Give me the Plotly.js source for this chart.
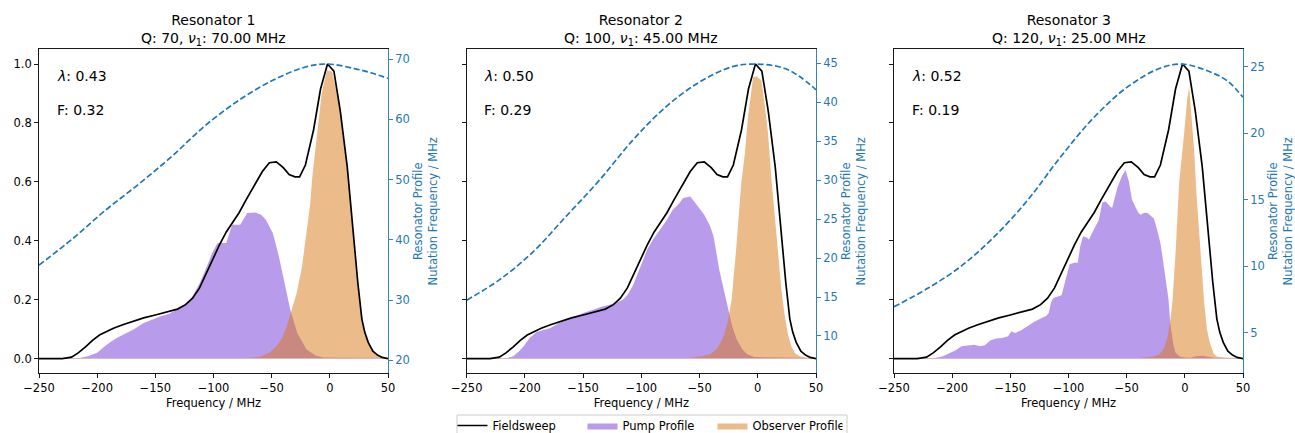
<!DOCTYPE html>
<html>
<head>
<meta charset="utf-8">
<script src="https://cdn.plot.ly/plotly-3.0.1.min.js"></script>
<style>html,body{margin:0;padding:0;background:#fff;}#chart{width:1295px;height:433px;}</style>
</head>
<body>
<div id="chart"></div>
<script>
// ---------------- data ----------------
const panelTitles = ["Resonator 1", "Resonator 2", "Resonator 3"];
const qValues = [70, 100, 120];
const nu1Values = ["70.00", "45.00", "25.00"];
const lambdaValues = ["0.43", "0.50", "0.52"];
const fValues = ["0.32", "0.29", "0.19"];

// Fieldsweep (same in all panels)
const fsFreq = [-250,-230,-222,-216,-210,-204,-198,-192,-186,-178,-170,-160,-150,-140,-131,-124,-118,-112,-106,-101,-95,-89,-84,-78,-72,-64,-58,-52,-46,-40,-35,-30,-26,-21,-14,-8,-2,3.5,9,15,20,24,27.5,30,33,37,41,45,50];
const fsVal  = [0,0,0.005,0.02,0.04,0.062,0.08,0.092,0.103,0.115,0.126,0.138,0.148,0.158,0.168,0.183,0.205,0.24,0.29,0.336,0.385,0.43,0.46,0.495,0.539,0.595,0.635,0.665,0.668,0.648,0.625,0.617,0.617,0.657,0.776,0.915,1.0,0.976,0.84,0.65,0.42,0.26,0.135,0.09,0.055,0.025,0.012,0.004,0];

// Pump profiles
const pump1Freq = [-250,-215,-208,-200,-194,-188,-182,-176,-168,-160,-152,-146,-138,-132,-126,-119,-112,-106,-101,-96.5,-89,-84,-77,-71,-64,-59,-55,-49,-44,-39.5,-34,-28,-20,-12,-5,50];
const pump1Val  = [0.002,0.002,0.008,0.02,0.04,0.058,0.072,0.085,0.1,0.121,0.135,0.143,0.152,0.165,0.18,0.205,0.255,0.31,0.36,0.392,0.392,0.454,0.454,0.494,0.496,0.488,0.471,0.426,0.35,0.268,0.166,0.087,0.031,0.01,0.004,0.002];

const pump2Freq = [-250,-215,-210,-205,-201,-196,-190,-184,-178,-172,-166,-158,-150,-142,-135,-128,-121,-116,-112,-107,-103,-99,-95,-90,-84,-79,-73,-68,-64,-58,-52,-46,-41,-38,-33,-27,-22,-18,-13,-9,-3,50];
const pump2Val  = [0.002,0.002,0.008,0.025,0.042,0.07,0.09,0.098,0.104,0.118,0.13,0.142,0.155,0.165,0.175,0.182,0.19,0.2,0.215,0.25,0.29,0.325,0.37,0.404,0.437,0.465,0.505,0.525,0.545,0.55,0.52,0.488,0.45,0.415,0.3,0.19,0.11,0.064,0.03,0.015,0.005,0.002];

const pump3Freq = [-250,-215,-208,-202,-197,-192,-186,-181,-176,-172,-167,-162,-157,-152,-149,-146,-141,-135,-129,-123,-119,-117,-115,-113,-110,-106,-104,-101.5,-99,-95,-92,-90,-87.5,-84,-82.5,-78,-74,-71,-68,-65,-62.5,-58,-54,-51,-48,-45.5,-44,-40,-38,-35,-32,-29,-26.5,-24,-21,-19,-16.7,-14,-12.5,-10,-8,-4,0,5,10,15,20,25,50];
const pump3Val  = [0.002,0.002,0.008,0.018,0.028,0.042,0.045,0.047,0.042,0.045,0.062,0.068,0.07,0.076,0.093,0.087,0.095,0.11,0.126,0.138,0.145,0.155,0.19,0.206,0.211,0.215,0.245,0.279,0.32,0.325,0.325,0.38,0.415,0.41,0.404,0.44,0.47,0.53,0.533,0.52,0.511,0.58,0.62,0.64,0.6,0.54,0.528,0.495,0.488,0.495,0.494,0.485,0.475,0.44,0.392,0.34,0.279,0.2,0.12,0.05,0.02,0.006,0.004,0.003,0.008,0.01,0.006,0.003,0.002];

// Observer profiles
const obs1Freq = [-250,-70,-60,-52,-46,-41,-37,-33,-28.5,-24,-20,-17,-15,-11,-7,-2.5,2,6,9.5,13,16.6,19.5,22.3,26,29,32,35,40,45,50];
const obs1Val  = [0.002,0.002,0.006,0.02,0.042,0.07,0.11,0.16,0.223,0.31,0.43,0.52,0.62,0.765,0.9,0.978,0.975,0.9,0.82,0.7,0.595,0.45,0.313,0.18,0.11,0.06,0.035,0.012,0.004,0.002];

const obs2Freq = [-250,-60,-48,-41,-36,-32,-29,-26,-22.5,-18.6,-14.2,-11,-8.4,-4,-1,3,6,8.8,11.5,14.5,17.5,20.3,23,26,29,32,36,42,50];
const obs2Val  = [0.002,0.002,0.008,0.014,0.03,0.053,0.08,0.121,0.2,0.37,0.595,0.7,0.82,0.956,0.958,0.945,0.86,0.765,0.62,0.482,0.35,0.234,0.15,0.08,0.04,0.018,0.008,0.003,0.002];

const obs3Freq = [-250,-40,-28,-22,-18,-15,-12.5,-10.7,-7.8,-4.9,-0.6,2,3.7,5.5,8,10,12.3,14.5,16.6,19,21.5,25,28,35,50];
const obs3Val  = [0.002,0.002,0.006,0.014,0.035,0.07,0.13,0.19,0.37,0.595,0.765,0.88,0.922,0.84,0.708,0.56,0.426,0.3,0.19,0.1,0.053,0.015,0.006,0.003,0.002];

// Resonator profiles (nutation frequency, MHz)
const res1Freq = [-250,-221,-193,-164,-135,-107,-78,-49,-21,-2,22,36,50];
const res1Val  = [35.8,40.2,44.9,49.3,54.0,59.0,63.2,66.5,68.7,69.2,68.4,67.7,66.8];
const res2Freq = [-250,-222,-193,-165,-136,-107,-79,-50,-21,-1,22,36,50];
const res2Val  = [14.6,17.2,20.8,25.3,30.0,35.2,39.4,42.6,44.6,44.9,44.4,43.3,41.6];
const res3Freq = [-250,-221,-193,-164,-135,-107,-78,-49,-21,-2,22,37,50];
const res3Val  = [6.95,8.34,9.96,12.2,14.98,18.2,21.2,23.5,24.9,25.2,24.6,23.9,22.7];

const xTicks = [-250,-200,-150,-100,-50,0,50];
const yTicks = [0,0.2,0.4,0.6,0.8,1.0];

// ---------------- styling / layout ----------------
const W = 1295, H = 433;
const FONT = "DejaVu Sans, Verdana, sans-serif";
const BLUE = "#1f77b4";
const PUMP_FILL = "rgba(115,55,215,0.5)";
const OBS_FILL = "rgba(217,119,21,0.5)";

const pumps = [[pump1Freq,pump1Val],[pump2Freq,pump2Val],[pump3Freq,pump3Val]];
const obss = [[obs1Freq,obs1Val],[obs2Freq,obs2Val],[obs3Freq,obs3Val]];
const ress = [[res1Freq,res1Val],[res2Freq,res2Val],[res3Freq,res3Val]];
const y2Ranges = [[17.84,71.64],[5.21,46.8],[1.95,26.31]];
const y2Ticks = [[20,30,40,50,60,70],[10,15,20,25,30,35,40,45],[5,10,15,20,25]];
const xPix = [[39,388],[466.7,816],[894,1243]];
const yDom = [(H-373.3)/H, (H-49.3)/H];

const traces = [];
const layout = {
  width: W, height: H,
  margin: {l:0,r:0,t:0,b:0,autoexpand:false},
  paper_bgcolor: "#fff", plot_bgcolor: "rgba(0,0,0,0)",
  font: {family: FONT, size: 11.5, color: "#000"},
  showlegend: true,
  legend: {orientation: "h", x: 0.5, xanchor: "center", y: 1-411/H, yanchor: "top",
           borderwidth: 0, bgcolor: "rgba(0,0,0,0)",
           entrywidth: 85, entrywidthmode: "pixels",
           font: {family: FONT, size: 11.5, color: "#000"}, traceorder: "normal"},
  shapes: [{type:"rect", xref:"paper", yref:"paper", x0: 457/W, x1: 847/W, y0: 1-442/H, y1: 1-415/H,
            line:{color:"#cccccc", width:1}, fillcolor:"rgba(255,255,255,0.8)", layer:"below"}],
  annotations: []
};

for (let i = 0; i < 3; i++) {
  const xa = i === 0 ? "x" : "x" + (i+1);
  const ya = "y" + (i === 0 ? "" : (2*i+1));
  const y2 = "y" + (2*i+2);
  const xKey = i === 0 ? "xaxis" : "xaxis" + (i+1);
  const yKey = i === 0 ? "yaxis" : "yaxis" + (2*i+1);
  const y2Key = "yaxis" + (2*i+2);
  const dom = [xPix[i][0]/W, xPix[i][1]/W];

  traces.push({type:"scatter", mode:"lines", x: pumps[i][0], y: pumps[i][1], xaxis: xa, yaxis: ya,
    fill:"tozeroy", fillcolor: PUMP_FILL, line:{width:0, color: PUMP_FILL}, name:"Pump Profile",
    showlegend: i===0, legendrank: 2, hoverinfo:"skip"});
  traces.push({type:"scatter", mode:"lines", x: obss[i][0], y: obss[i][1], xaxis: xa, yaxis: ya,
    fill:"tozeroy", fillcolor: OBS_FILL, line:{width:0, color: OBS_FILL}, name:"Observer Profile",
    showlegend: i===0, legendrank: 3, hoverinfo:"skip"});
  traces.push({type:"scatter", mode:"lines", x: fsFreq, y: fsVal, xaxis: xa, yaxis: ya,
    line:{color:"#000", width:1.7}, name:"Fieldsweep", showlegend: i===0, legendrank: 1});
  traces.push({type:"scatter", mode:"lines", x: ress[i][0], y: ress[i][1], xaxis: xa, yaxis: y2,
    line:{color: BLUE, width:1.7, dash:"6px,2.7px", shape:"spline", smoothing:1}, name:"Resonator Profile",
    showlegend:false});

  layout[xKey] = {domain: dom, anchor: ya, range: [-250, 50], tickvals: xTicks,
    showline: true, linecolor:"#000", linewidth: 0.9, mirror: true, ticks:"outside", ticklen: 4, tickwidth: 0.9,
    tickcolor:"#000", showgrid:false, zeroline:false, tickfont:{size:11.5, color:"#000"},
    title:{text:"Frequency / MHz", font:{size:11.5, color:"#000"}, standoff: 4}};
  layout[yKey] = {domain: yDom, anchor: xa, range: [-0.05, 1.05], tickvals: yTicks, tickformat: ".1f",
    showticklabels: i===0, showline: true, linecolor:"#000", linewidth: 0.9, ticks:"outside", ticklen: 4,
    tickwidth: 0.9, tickcolor:"#000", showgrid:false, zeroline:false, tickfont:{size:11.5, color:"#000"}};
  layout[y2Key] = {overlaying: ya, anchor: xa, side:"right", range: y2Ranges[i], tickvals: y2Ticks[i],
    showline: true, linecolor: BLUE, linewidth: 0.9, ticks:"outside", ticklen: 4, tickwidth: 0.9, tickcolor: BLUE,
    showgrid:false, zeroline:false, tickfont:{size:11.5, color: BLUE},
    title:{text:"Resonator Profile<br>Nutation Frequency / MHz", font:{size:11.5, color: BLUE}, standoff: 5}};

  const cx = (xPix[i][0] + xPix[i][1]) / 2 / W;
  layout.annotations.push({xref:"paper", yref:"paper", x: cx, y: 1-50/H, xanchor:"center", yanchor:"bottom",
    showarrow:false, align:"center", font:{size:14, color:"#000"},
    text: panelTitles[i] + "<br>Q: " + qValues[i] + ", <i>ν</i><sub>1</sub>: " + nu1Values[i] + " MHz"});
  const ax = (xPix[i][0] + 0.045*(xPix[i][1]-xPix[i][0])) / W;
  layout.annotations.push({xref:"paper", yref:"paper", x: ax, y: 1-76/H, xanchor:"left", yanchor:"middle",
    showarrow:false, font:{size:14, color:"#000"}, text: "<i>λ</i>: " + lambdaValues[i]});
  layout.annotations.push({xref:"paper", yref:"paper", x: ax, y: 1-109.5/H, xanchor:"left", yanchor:"middle",
    showarrow:false, font:{size:14, color:"#000"}, text: "F: " + fValues[i]});
}

Plotly.newPlot("chart", traces, layout, {staticPlot: true, displayModeBar: false});
</script>
</body>
</html>
